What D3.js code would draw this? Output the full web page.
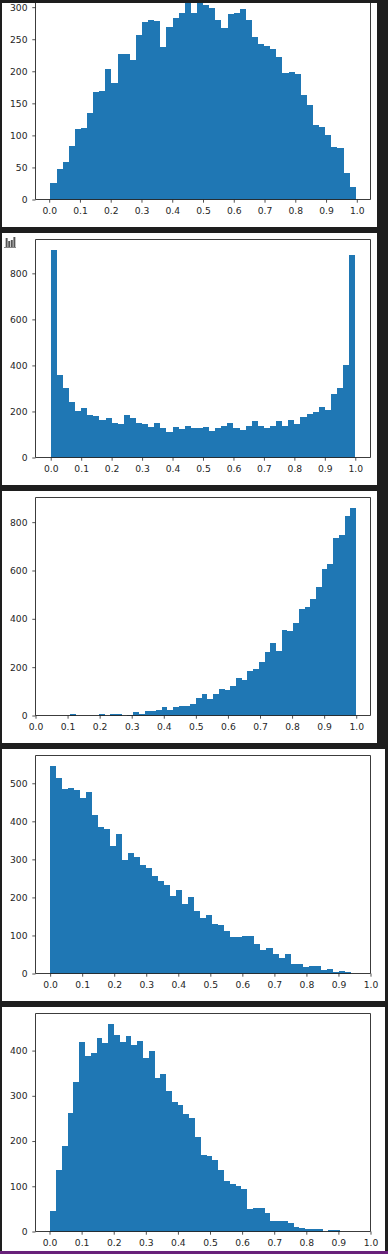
<!DOCTYPE html>
<html>
<head>
<meta charset="utf-8">
<script src="https://cdn.jsdelivr.net/npm/d3@7"></script>
<style>
  html, body { margin: 0; padding: 0; background: #1e1e1e; }
  svg { display: block; }
  text { font-family: "DejaVu Sans", sans-serif; font-size: 9.2px; fill: #262626; }
</style>
</head>
<body>
<svg id="chart" width="388" height="1254"></svg>
<script>
// Bin counts, 50 bins per histogram
const countsA = [25, 47, 59, 84, 110, 112, 135, 168, 170, 204, 182, 227, 227, 218, 257, 277, 280, 279, 238, 269,
    283, 291, 307, 291, 307, 304, 299, 280, 268, 289, 291, 297, 280, 254, 243, 240, 234, 223, 198, 199,
    196, 163, 148, 116, 113, 101, 82, 81, 42, 20];
const countsB = [901, 357, 300, 240, 200, 213, 184, 180, 163, 170, 152, 144, 184, 170, 148, 144, 131, 148, 126, 109,
    131, 122, 139, 126, 126, 131, 113, 126, 135, 148, 126, 118, 139, 157, 139, 126, 135, 157, 139, 165,
    144, 175, 187, 196, 218, 205, 274, 300, 400, 879];
const countsC = [5, 0, 0, 0, 0, 5, 0, 5, 5, 0, 4, 14, 5, 18, 18, 22, 35, 22, 35, 39,
    39, 47, 72, 88, 68, 88, 109, 105, 121, 154, 146, 183, 192, 221, 262, 299, 266, 353, 349, 382,
    440, 448, 481, 531, 606, 626, 734, 746, 825, 858];
const countsD = [546, 514, 485, 488, 482, 461, 477, 417, 385, 380, 335, 367, 298, 317, 306, 285, 277, 256, 243, 232,
    204, 219, 182, 201, 164, 146, 154, 130, 127, 111, 96, 96, 98, 98, 77, 61, 67, 51, 40, 51,
    25, 25, 17, 19, 19, 9, 11, 3, 6, 3];
const countsE = [46, 137, 188, 261, 330, 418, 387, 394, 427, 416, 458, 434, 418, 432, 412, 421, 383, 399, 339, 348,
    310, 286, 279, 259, 252, 208, 170, 168, 159, 135, 111, 106, 100, 93, 49, 53, 53, 42, 24, 24,
    24, 18, 11, 7, 6, 6, 6, 0, 4, 4];

const xTicks = [0, 0.1, 0.2, 0.3, 0.4, 0.5, 0.6, 0.7, 0.8, 0.9, 1];
const yTicksA = [0, 50, 100, 150, 200, 250, 300];
const yTicksB = [0, 200, 400, 600, 800];
const yTicksC = [0, 200, 400, 600, 800];
const yTicksD = [0, 100, 200, 300, 400, 500];
const yTicksE = [0, 100, 200, 300, 400];

/**
 * One entry per notebook output cell.
 * card: the white output box, top/bottom: axes box, xDomain: value at the axes edges, bins: first and last bin edge.
 */
const panels = [
    { counts: countsA, yTicks: yTicksA, card: [2, 3, 377, 227], top: 3, bottom: 199.5, yMax: 306.5, xDomain: [-0.0445, 1.0445], bins: [0.004, 0.9965], noTopSpine: true },
    { counts: countsB, yTicks: yTicksB, card: [2, 233, 377, 485], top: 239.5, bottom: 457.5, yMax: 947, xDomain: [-0.05, 1.05], bins: [0, 1] },
    { counts: countsC, yTicks: yTicksC, card: [2, 491, 377, 743], top: 497.5, bottom: 715.5, yMax: 902, xDomain: [0, 1.0445], bins: [0.1085, 0.9995] },
    { counts: countsD, yTicks: yTicksD, card: [2, 749, 385, 1001], top: 755.5, bottom: 973.5, yMax: 573, xDomain: [-0.0457, 1], bins: [0, 0.938] },
    { counts: countsE, yTicks: yTicksE, card: [2, 1007, 385, 1251], top: 1013.5, bottom: 1231.5, yMax: 482, xDomain: [-0.0437, 1], bins: [0.002, 0.905] }
];

const axesLeft = 35.5, axesRight = 370.5;
const barColor = '#1f77b4', inkColor = '#262626';

const svg = d3.select('#chart');

// Purple status bar along the very bottom of the screenshot
svg.append('rect').attr('x', 0).attr('y', 1251).attr('width', 388).attr('height', 3).attr('fill', '#68217a');

panels.forEach(drawPanel);
drawOutputIcon();

function drawPanel(p) {
    const [cx0, cy0, cx1, cy1] = p.card;
    svg.append('rect')
        .attr('x', cx0).attr('y', cy0)
        .attr('width', cx1 - cx0).attr('height', cy1 - cy0)
        .attr('fill', '#fff');

    const xScale = d3.scaleLinear().domain(p.xDomain).range([axesLeft, axesRight]);
    const yScale = d3.scaleLinear().domain([0, p.yMax]).range([p.bottom, p.top]);

    const edges = d3.scaleLinear().domain([0, p.counts.length]).range(p.bins);

    // crispEdges stops the hairline seams between neighbouring bins
    const g = svg.append('g').attr('shape-rendering', 'crispEdges');
    g.selectAll('rect.bar')
        .data(p.counts)
        .join('rect')
        .attr('class', 'bar')
        .attr('x', (d, i) => Math.round(xScale(edges(i))))
        .attr('width', (d, i) => Math.round(xScale(edges(i + 1))) - Math.round(xScale(edges(i))))
        .attr('y', d => yScale(Math.min(d, p.yMax)))
        .attr('height', d => p.bottom - yScale(Math.min(d, p.yMax)))
        .attr('fill', barColor);

    const xAxis = d3.axisBottom(xScale)
        .tickValues(xTicks)
        .tickFormat(d3.format('.1f'))
        .tickSize(3.2)
        .tickPadding(5);
    const yAxis = d3.axisLeft(yScale)
        .tickValues(p.yTicks)
        .tickSize(3.2)
        .tickPadding(4.8);

    const styleAxis = sel => {
        sel.select('.domain').remove();
        sel.selectAll('line').attr('stroke', inkColor).attr('stroke-width', 0.8);
        sel.selectAll('text').style('fill', inkColor).style('font-family', '"DejaVu Sans", sans-serif').style('font-size', '9.2px');
    };

    svg.append('g').attr('transform', 'translate(0,' + p.bottom + ')').call(xAxis).call(styleAxis);
    svg.append('g').attr('transform', 'translate(' + axesLeft + ',0)').call(yAxis).call(styleAxis);

    // Spines
    const spines = [
        [axesLeft, p.bottom, axesRight, p.bottom],
        [axesLeft, p.top, axesLeft, p.bottom],
        [axesRight, p.top, axesRight, p.bottom]
    ];
    if (!p.noTopSpine) spines.push([axesLeft, p.top, axesRight, p.top]);
    svg.append('g').selectAll('line')
        .data(spines)
        .join('line')
        .attr('x1', d => d[0]).attr('y1', d => d[1])
        .attr('x2', d => d[2]).attr('y2', d => d[3])
        .attr('stroke', inkColor)
        .attr('stroke-width', 0.9);
}

/**
 * Little bar chart glyph the notebook puts next to the second output.
 */
function drawOutputIcon() {
    const iconBars = [9, 6, 7, 10];
    const icon = svg.append('g').attr('transform', 'translate(4,236)');
    const ix = d3.scaleBand().domain(d3.range(iconBars.length)).range([1, 12]).padding(0.25);
    icon.selectAll('rect')
        .data(iconBars)
        .join('rect')
        .attr('x', (d, i) => ix(i))
        .attr('width', ix.bandwidth())
        .attr('y', d => 11 - d)
        .attr('height', d => d)
        .attr('fill', '#555');
    icon.append('line')
        .attr('x1', 0).attr('x2', 12)
        .attr('y1', 11.5).attr('y2', 11.5)
        .attr('stroke', '#888');
}
</script>
</body>
</html>
